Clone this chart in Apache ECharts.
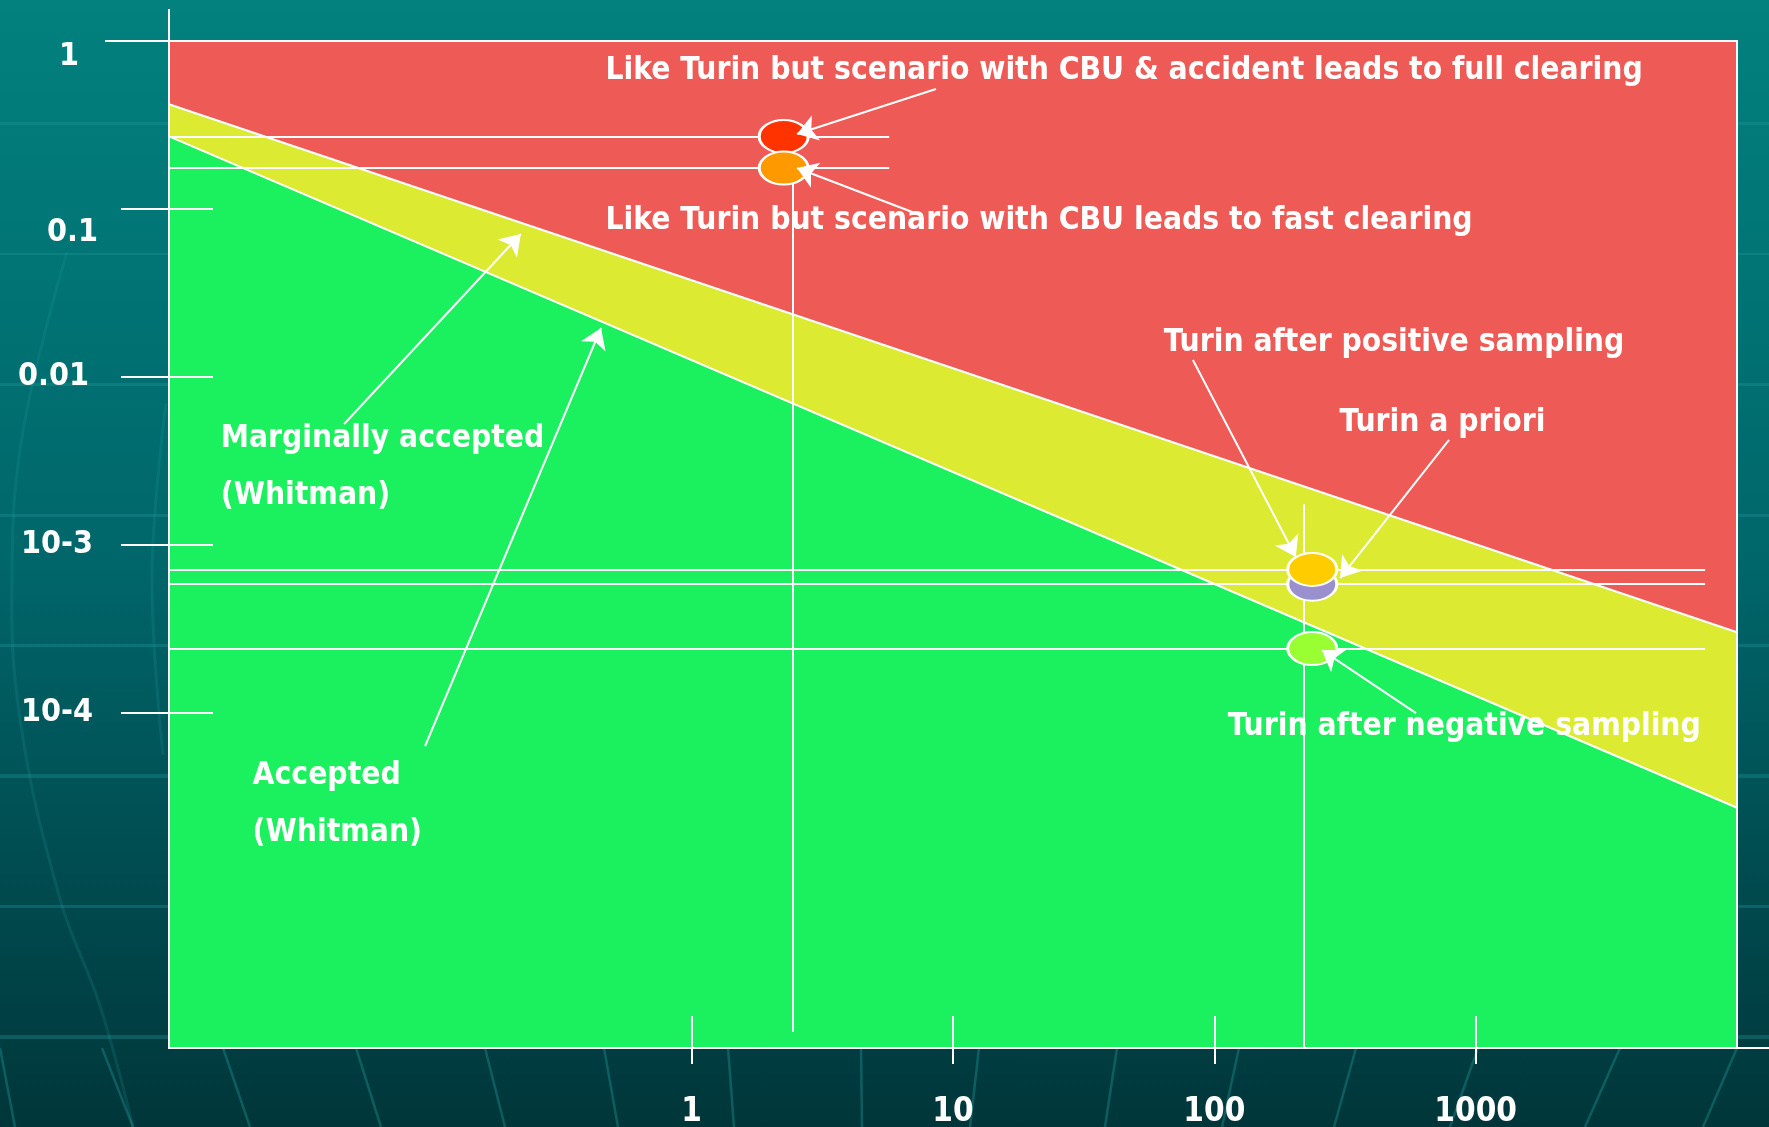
<!DOCTYPE html>
<html>
<head>
<meta charset="utf-8">
<script src="https://cdn.jsdelivr.net/npm/echarts@6/dist/echarts.min.js"></script>
<style>
html, body { margin: 0; padding: 0; }
body {
    background:
        repeating-linear-gradient(to bottom, transparent 0px, transparent 122px, rgba(30,150,150,0.35) 122px, rgba(30,150,150,0.35) 125px, transparent 125px, transparent 130.5px),
        linear-gradient(to bottom, #02817e, #00666a 50%, #00363a);
}
#chart { width: 1769px; height: 1127px; }
</style>
</head>
<body>
<div id="chart"></div>
<script>
// ---------------------- data ----------------------
const xTicks = [1, 10, 100, 1000];
const yTicks = [1, 0.1, 0.01, 0.001, 0.0001];
const yTickLabels = ['1', '0.1', '0.01', '10-3', '10-4'];

// acceptance limit lines (Whitman)
const upperLine = [[0.01, 0.42], [10000, 3.0e-4]];
const lowerLine = [[0.01, 0.27], [10000, 2.7e-5]];

// scenario points
const pointNames = ['CBU & accident, full clearing', 'CBU, fast clearing', 'Turin a priori', 'Turin after positive sampling', 'Turin after negative sampling'];
const pointX = [2.25, 2.25, 237, 237, 237];
const pointY = [0.27, 0.175, 5.8e-4, 7.1e-4, 2.4e-4];
const pointColors = ['#ff3300', '#ff9900', '#9a90d0', '#ffcc00', '#99ff33'];

// guide lines through the points
const hLineEnd = [5.7, 5.7, 7550, 7550, 7550];
const vLineX = [2.44, 220];
const vLineTop = [0.175, 1.74e-3];
const vLineBottom = [1.25e-6, 1e-6];

// annotations
const noteTexts = [
    'Like Turin but scenario with CBU & accident leads to full clearing',
    'Like Turin but scenario with CBU leads to fast clearing',
    'Turin after positive sampling',
    'Turin a priori',
    'Turin after negative sampling',
    'Marginally accepted\n(Whitman)',
    'Accepted\n(Whitman)'
];
const noteX = [0.466, 0.466, 63.7, 300, 112, 0.0157, 0.0208];
const noteY = [0.663, 0.0846, 0.0159, 5.3e-3, 8.2e-5, 2.9e-3, 2.84e-5];

const arrowFrom = [[8.61, 0.518], [7.48, 0.0919], [82.8, 0.01257], [791, 4.2e-3], [591, 9.9e-5], [0.0468, 5.22e-3], [0.0955, 6.3e-5]];
const arrowTo = [[2.53, 0.279], [2.53, 0.175], [205, 8.42e-4], [303, 6.31e-4], [258, 2.35e-4], [0.222, 0.0708], [0.45, 0.0195]];

// ---------------------- chart ----------------------
const FONT = "'DejaVu Sans Condensed', 'DejaVu Sans', Verdana, sans-serif";
const chart = echarts.init(document.getElementById('chart'));

const guideLines = [];
pointY.forEach((y, i) => guideLines.push({ coords: [[0.01, y], [hLineEnd[i], y]] }));
vLineX.forEach((x, i) => guideLines.push({ coords: [[x, vLineTop[i]], [x, vLineBottom[i]]] }));

const logX = { type: 'log', logBase: 10, min: 0.01, max: 10000, splitLine: { show: false }, z: 10 };
const logY = { type: 'log', logBase: 10, min: 1e-6, max: 1, splitLine: { show: false }, z: 10 };

// per-label nudges so the tick labels sit like the original slide
const labelStyle = { color: '#fff', fontSize: 32, fontWeight: 'bold', fontFamily: FONT };
const yRich = {
    t0: Object.assign({ padding: [32, 19, 0, 0] }, labelStyle),
    t1: Object.assign({ padding: [48, 0, 0, 0] }, labelStyle),
    t2: Object.assign({ padding: [0, 9, 0, 0] }, labelStyle),
    t3: Object.assign({ padding: [0, 5, 0, 0] }, labelStyle),
    t4: Object.assign({ padding: [0, 5, 0, 0] }, labelStyle)
};
function yLabel(v) {
    const i = yTicks.findIndex(t => Math.abs(Math.log10(t) - Math.log10(v)) < 1e-6);
    if (i < 0) return '';
    return '{t' + i + '|' + yTickLabels[i] + '}';
}

chart.setOption({
    animation: false,
    grid: {
        left: 169, right: 32, top: 41, bottom: 79,
        containLabel: false,
        outerBoundsMode: 'none',
        show: true,
        backgroundColor: '#ee5a55',
        borderColor: '#ffffff',
        borderWidth: 2
    },
    xAxis: [
        Object.assign({}, logX, {
            position: 'bottom',
            axisLine: { onZero: false, lineStyle: { color: '#fff', width: 2 } },
            axisTick: { customValues: xTicks, length: 16, lineStyle: { color: '#fff', width: 2 } },
            axisLabel: Object.assign({
                customValues: xTicks,
                formatter: v => String(Math.round(v)),
                margin: 48
            }, labelStyle, { fontSize: 33 })
        }),
        Object.assign({}, logX, {
            position: 'bottom',
            axisLine: { show: false, onZero: false },
            axisTick: { customValues: xTicks, inside: true, length: 32, lineStyle: { color: '#fff', width: 2 } },
            axisLabel: { show: false }
        })
    ],
    yAxis: [
        Object.assign({}, logY, {
            position: 'left',
            axisLine: { onZero: false, lineStyle: { color: '#fff', width: 2 } },
            axisTick: { customValues: yTicks, length: 48, lineStyle: { color: '#fff', width: 2 } },
            axisLabel: Object.assign({
                customValues: yTicks,
                formatter: yLabel,
                align: 'right', margin: 71,
                rich: yRich
            }, labelStyle)
        }),
        Object.assign({}, logY, {
            position: 'left',
            axisLine: { show: false, onZero: false },
            axisTick: { customValues: yTicks, inside: true, length: 44, lineStyle: { color: '#fff', width: 2 } },
            axisLabel: { show: false }
        }),
        Object.assign({}, logY, {
            position: 'right',
            axisLine: { onZero: false, lineStyle: { color: '#fff', width: 2 } },
            axisTick: { show: false },
            axisLabel: { show: false }
        })
    ],
    series: [
        {
            name: 'Marginally accepted',
            type: 'line',
            data: upperLine,
            symbol: 'none',
            lineStyle: { color: '#fff', width: 2 },
            areaStyle: { color: '#dcea31', opacity: 1, origin: 'start' },
            z: 1
        },
        {
            name: 'Accepted',
            type: 'line',
            data: lowerLine,
            symbol: 'none',
            lineStyle: { color: '#fff', width: 2 },
            areaStyle: { color: '#1bf05f', opacity: 1, origin: 'start' },
            z: 2
        },
        {
            name: 'guides',
            type: 'lines',
            coordinateSystem: 'cartesian2d',
            data: guideLines,
            lineStyle: { color: '#fff', width: 2, opacity: 1 },
            z: 3
        },
        {
            name: 'scenarios',
            type: 'scatter',
            symbol: 'circle',
            symbolSize: [49, 33],
            data: pointX.map((x, i) => ({
                name: pointNames[i],
                value: [x, pointY[i]],
                itemStyle: { color: pointColors[i], borderColor: '#fff', borderWidth: 2.5, opacity: 1 }
            })),
            z: 4
        },
        {
            name: 'arrows',
            type: 'lines',
            coordinateSystem: 'cartesian2d',
            symbol: ['none', 'arrow'],
            symbolSize: 20,
            data: arrowFrom.map((p, i) => ({ coords: [p, arrowTo[i]] })),
            lineStyle: { color: '#fff', width: 2, opacity: 1 },
            z: 5
        },
        {
            name: 'notes',
            type: 'scatter',
            symbolSize: 1,
            itemStyle: { color: 'rgba(0,0,0,0)', opacity: 1 },
            data: noteX.map((x, i) => ({ value: [x, noteY[i]], label: { formatter: noteTexts[i] } })),
            label: {
                show: true,
                position: 'right',
                distance: 0,
                align: 'left',
                verticalAlign: 'middle',
                color: '#ffffff',
                opacity: 1,
                fontSize: 31.5,
                fontWeight: 'bold',
                fontFamily: FONT,
                lineHeight: 57
            },
            z: 6
        }
    ]
});

// ---------------------- frame extensions and faint background globe lines ----------------------
const topLeft = chart.convertToPixel({ xAxisIndex: 0, yAxisIndex: 0 }, [0.01, 1]);
const botRight = chart.convertToPixel({ xAxisIndex: 0, yAxisIndex: 0 }, [10000, 1e-6]);
const W = chart.getWidth(), H = chart.getHeight();
const bottomY = botRight[1];

// meridians under the plot: x where they leave the frame, x at the page bottom
const meridians = [[0, 15], [102, 133], [223, 250], [356, 381], [485, 505], [604, 618], [728, 734], [861, 862],
    [979, 970], [1117, 1105], [1239, 1222], [1356, 1334], [1478, 1450], [1620, 1585], [1737, 1703]];
const bgStroke = { stroke: 'rgba(30,150,150,0.4)', lineWidth: 2.5, fill: null };
const faintStroke = { stroke: 'rgba(40,160,160,0.18)', lineWidth: 3, fill: null };
const deco = meridians.map(m => ({
    type: 'line', silent: true, z: -1,
    shape: { x1: m[0], y1: bottomY, x2: m[1], y2: H },
    style: bgStroke
}));
deco.push({
    type: 'polyline', silent: true, z: -1,
    shape: { points: [[67, 252], [23, 431], [12, 575], [20, 719], [60, 899], [100, 1006], [133, H]], smooth: 0.4 },
    style: faintStroke
});
deco.push({
    type: 'polyline', silent: true, z: -1,
    shape: { points: [[166, 403], [152, 575], [163, 755]], smooth: 0.4 },
    style: faintStroke
});

chart.setOption({
    graphic: deco.concat([
        { type: 'line', shape: { x1: topLeft[0], y1: topLeft[1] - 32, x2: topLeft[0], y2: topLeft[1] }, style: { stroke: '#fff', lineWidth: 2 } },
        { type: 'line', shape: { x1: topLeft[0] - 64, y1: topLeft[1], x2: topLeft[0], y2: topLeft[1] }, style: { stroke: '#fff', lineWidth: 2 } },
        { type: 'line', shape: { x1: botRight[0], y1: bottomY, x2: W, y2: bottomY }, style: { stroke: '#fff', lineWidth: 2 } }
    ])
});
</script>
</body>
</html>
